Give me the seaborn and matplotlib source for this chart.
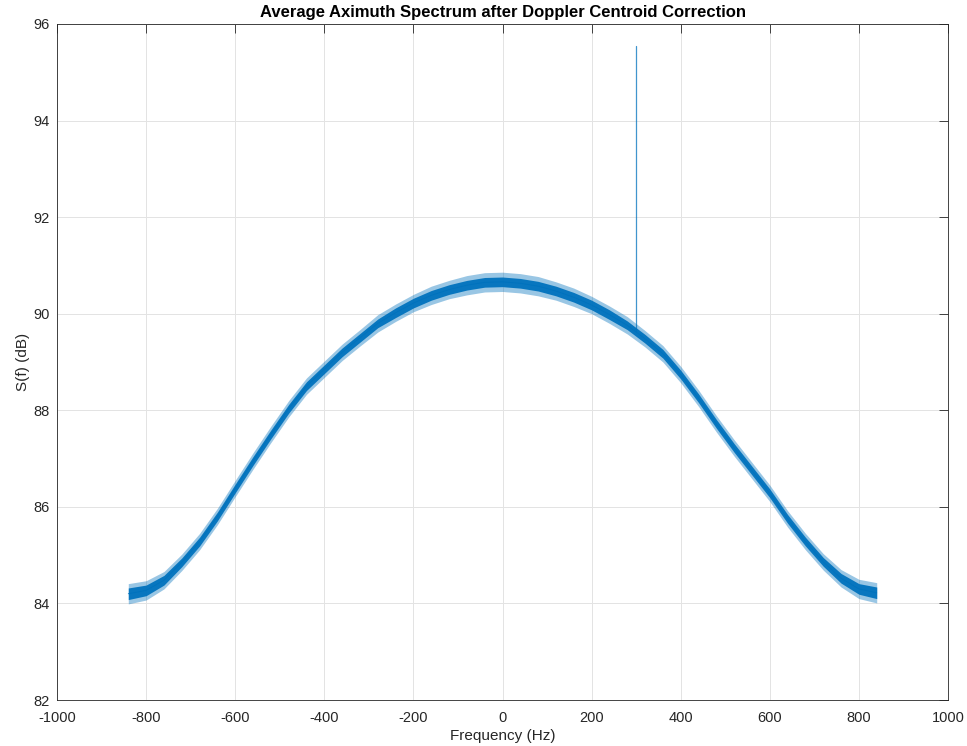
import matplotlib
matplotlib.use("Agg")
import numpy as np
import pandas as pd
import matplotlib.pyplot as plt
import seaborn as sns

# ---- data ----
freq_hz = [-840, -800, -760, -720, -680, -640, -600, -560, -520, -480, -440,
           -400, -360, -320, -280, -240, -200, -160, -120, -80, -40, 0,
           40, 80, 120, 160, 200, 240, 280, 320, 360, 400, 440,
           480, 520, 560, 600, 640, 680, 720, 760, 800, 840]
level_db = [84.20, 84.27, 84.48, 84.85, 85.28, 85.80, 86.38, 86.95, 87.50, 88.03, 88.50,
            88.85, 89.20, 89.50, 89.80, 90.02, 90.22, 90.38, 90.50, 90.59, 90.65, 90.66,
            90.63, 90.57, 90.47, 90.34, 90.18, 89.98, 89.76, 89.48, 89.17, 88.74, 88.25,
            87.72, 87.22, 86.75, 86.28, 85.75, 85.28, 84.86, 84.52, 84.30, 84.22]
# noise spread around the mean curve (dB): dense core and spike extent
noise_core_db = [0.12, 0.11, 0.10, 0.09, 0.09, 0.09, 0.09, 0.09, 0.09, 0.09, 0.09,
                 0.09, 0.09, 0.09, 0.09, 0.10, 0.10, 0.10, 0.10, 0.10, 0.10, 0.10,
                 0.10, 0.10, 0.10, 0.10, 0.10, 0.10, 0.09, 0.09, 0.09, 0.09, 0.09,
                 0.09, 0.09, 0.09, 0.09, 0.09, 0.09, 0.09, 0.10, 0.11, 0.12]
noise_peak_db = [0.21, 0.20, 0.18, 0.17, 0.17, 0.17, 0.17, 0.17, 0.17, 0.17, 0.17,
                 0.17, 0.17, 0.17, 0.18, 0.18, 0.18, 0.19, 0.19, 0.20, 0.20, 0.20,
                 0.20, 0.20, 0.19, 0.19, 0.18, 0.18, 0.18, 0.17, 0.17, 0.17, 0.17,
                 0.17, 0.17, 0.17, 0.17, 0.17, 0.17, 0.17, 0.18, 0.20, 0.21]
spike_freq_hz = [300, 300]
spike_level_db = [89.65, 95.55]

x_ticks = [-1000, -800, -600, -400, -200, 0, 200, 400, 600, 800, 1000]
y_ticks = [82, 84, 86, 88, 90, 92, 94, 96]

title = "Average Aximuth Spectrum after Doppler Centroid Correction"
x_label = "Frequency (Hz)"
y_label = "S(f) (dB)"

# ---- style ----
sns.set_style("white")
plt.rcParams["font.family"] = ["Liberation Sans", "DejaVu Sans"]
plt.rcParams["axes.unicode_minus"] = False

blue = "#0072BD"
dark = "#262626"

df = pd.DataFrame({"f": freq_hz, "S": level_db,
                   "core": noise_core_db, "peak": noise_peak_db})

fig = plt.figure(figsize=(9.67, 7.46), dpi=100)
ax = fig.add_axes([57 / 967, 46 / 746, 891 / 967, 676 / 746])

ax.fill_between(df["f"], df["S"] - df["peak"], df["S"] + df["peak"],
                color=blue, alpha=0.4, lw=0, zorder=2)
ax.fill_between(df["f"], df["S"] - df["core"], df["S"] + df["core"],
                color=blue, alpha=0.95, lw=0, zorder=3)
sns.lineplot(data=df, x="f", y="S", color=blue, lw=0.6, ax=ax, zorder=4)
sns.lineplot(x=spike_freq_hz, y=spike_level_db, estimator=None, sort=False,
             color=blue, lw=0.9, alpha=0.75, ax=ax, zorder=4)

ax.set_xlim(-1000, 1000)
ax.set_ylim(82, 96)
ax.set_xticks(x_ticks)
ax.set_yticks(y_ticks)
ax.set_xticklabels([str(t) for t in x_ticks])
ax.set_yticklabels([str(t) for t in y_ticks])

ax.grid(True, color="#e3e3e3", lw=0.7, zorder=0)
ax.set_axisbelow(True)
ax.tick_params(direction="in", length=6.5, width=0.6, top=True, right=True,
               labelsize=10.5, colors=dark)
ax.tick_params(axis="x", pad=8)
ax.tick_params(axis="y", pad=5)
for s in ax.spines.values():
    s.set_color(dark)
    s.set_linewidth(0.6)
    s.set_visible(True)

ax.set_xlabel(x_label, fontsize=11, color=dark, labelpad=2.5)
ax.set_ylabel(y_label, fontsize=11, color=dark, labelpad=3)
ax.set_title(title, fontsize=12, fontweight="bold", color="black", pad=5)

fig.savefig("out.png", dpi=100)
